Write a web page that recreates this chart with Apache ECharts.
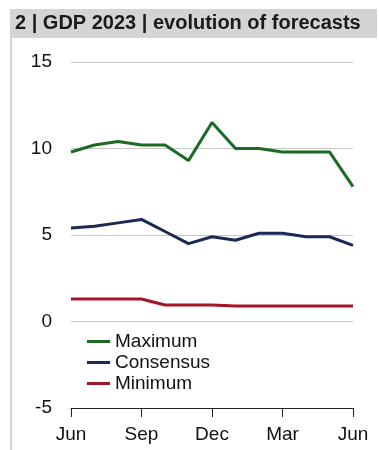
<!DOCTYPE html>
<html>
<head>
<meta charset="utf-8">
<script src="https://cdn.jsdelivr.net/npm/echarts@6/dist/echarts.min.js"></script>
<style>
  html, body { margin: 0; padding: 0; background: #fff; }
  #chart { width: 379px; height: 450px; }
</style>
</head>
<body>
<div id="chart"></div>
<script>
// forecast months, Jun 2022 .. Jun 2023
const months = ['Jun 2022', 'Jul 2022', 'Aug 2022', 'Sep 2022', 'Oct 2022', 'Nov 2022', 'Dec 2022',
  'Jan 2023', 'Feb 2023', 'Mar 2023', 'Apr 2023', 'May 2023', 'Jun 2023']
const maximum = [9.8, 10.2, 10.4, 10.2, 10.2, 9.3, 11.5, 10.0, 10.0, 9.8, 9.8, 9.8, 7.8]
const consensus = [5.4, 5.5, 5.7, 5.9, 5.2, 4.5, 4.9, 4.7, 5.1, 5.1, 4.9, 4.9, 4.4]
const minimum = [1.3, 1.3, 1.3, 1.3, 0.95, 0.95, 0.95, 0.9, 0.9, 0.9, 0.9, 0.9, 0.9]
const yTicks = [-5, 0, 5, 10, 15]

const font = 'Liberation Sans, Arial, sans-serif'
const chart = echarts.init(document.getElementById('chart'))

chart.setOption({
  animation: false,
  graphic: [
    // title bar + left frame line
    { type: 'rect', left: 10, top: 9, shape: { width: 367, height: 29 }, style: { fill: '#d4d4d4' } },
    { type: 'rect', left: 10, top: 38, shape: { width: 2, height: 412 }, style: { fill: '#d4d4d4' } },
    {
      type: 'text', left: 15, top: 13,
      style: { text: '2 | GDP 2023 | evolution of forecasts', font: 'bold 20px ' + font, fill: '#1a1a1a' }
    }
  ],
  grid: { left: 71, right: 26, top: 62, bottom: 42 },
  legend: {
    orient: 'vertical',
    left: 82, top: 327,
    itemWidth: 23, itemHeight: 3, itemGap: 2,
    icon: 'rect',
    textStyle: { fontFamily: font, fontSize: 19, color: '#111' },
    data: ['Maximum', 'Consensus', 'Minimum']
  },
  xAxis: {
    type: 'category',
    data: months,
    boundaryGap: false,
    axisLine: { onZero: false, lineStyle: { color: '#222', width: 1 } },
    axisTick: { interval: 2, length: 9, lineStyle: { color: '#222' } },
    axisLabel: {
      interval: 2, margin: 17,
      fontFamily: font, fontSize: 19, color: '#111',
      formatter: v => v.slice(0, 3)
    },
    splitLine: { show: false }
  },
  yAxis: {
    type: 'value',
    min: yTicks[0], max: yTicks[yTicks.length - 1], interval: 5,
    axisLine: { show: false },
    axisTick: { show: false },
    axisLabel: { margin: 19, fontFamily: font, fontSize: 19, color: '#111' },
    splitLine: { lineStyle: { color: '#c8c8c8', width: 1 } }
  },
  series: [
    { name: 'Maximum', type: 'line', data: maximum, symbol: 'none', color: '#1b6a26', lineStyle: { width: 3 } },
    { name: 'Consensus', type: 'line', data: consensus, symbol: 'none', color: '#1c2957', lineStyle: { width: 3 } },
    { name: 'Minimum', type: 'line', data: minimum, symbol: 'none', color: '#a51528', lineStyle: { width: 3 } }
  ]
})
</script>
</body>
</html>
